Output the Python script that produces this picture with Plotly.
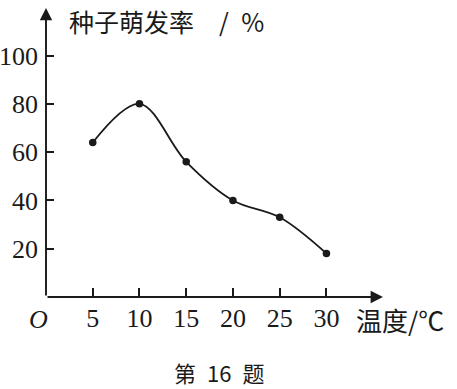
import plotly.graph_objects as go

# Data
temperature = [5, 10, 15, 20, 25, 30]
germination_rate = [64, 80, 56, 40, 33, 18]
x_tick_vals = [5, 10, 15, 20, 25, 30]
y_tick_vals = [20, 40, 60, 80, 100]

W, H = 457, 389
L, R, T, B = 46, 74, 8, 92
PW, PH = W - L - R, H - T - B
XMAX = 36.05
YMAX = 119.7

INK = "#1a1a1a"
SERIF = "Liberation Serif, DejaVu Serif, serif"
CJK = "Noto Sans CJK SC, sans-serif"


def paper_x(px):
    return (px - L) / PW


def paper_y(py):
    return (T + PH - py) / PH


fig = go.Figure()
fig.add_trace(go.Scatter(
    x=temperature, y=germination_rate,
    mode="lines+markers",
    line=dict(color=INK, width=1.8, shape="spline", smoothing=1.0),
    marker=dict(color=INK, size=7.5),
    cliponaxis=False,
    showlegend=False,
))

annotations = [
    # axis lines with arrows
    dict(x=XMAX, y=0, ax=0, ay=0, xref="x", yref="y", axref="x", ayref="y",
         showarrow=True, arrowhead=2, arrowsize=1.3, arrowwidth=1.9, arrowcolor=INK, text=""),
    dict(x=0, y=YMAX, ax=0, ay=0, xref="x", yref="y", axref="x", ayref="y",
         showarrow=True, arrowhead=2, arrowsize=1.3, arrowwidth=1.9, arrowcolor=INK, text=""),
    # origin label
    dict(x=paper_x(38.5), y=paper_y(319), xref="paper", yref="paper", text="<i>O</i>",
         showarrow=False, font=dict(family=SERIF, size=26, color=INK),
         xanchor="center", yanchor="middle"),
    # y-axis title
    dict(x=paper_x(67), y=paper_y(21), xref="paper", yref="paper",
         text="种子萌发率\u2003/\u2002%",
         showarrow=False, font=dict(family=CJK, size=25, color=INK),
         xanchor="left", yanchor="middle"),
    # x-axis title
    dict(x=paper_x(354), y=paper_y(319), xref="paper", yref="paper", text="温度/℃",
         showarrow=False, font=dict(family=CJK, size=26, color=INK),
         xanchor="left", yanchor="middle"),
    # caption
    dict(x=paper_x(219), y=paper_y(372), xref="paper", yref="paper",
         text="第\u200216\u2002题",
         showarrow=False, font=dict(family=CJK, size=22, color=INK),
         xanchor="center", yanchor="middle"),
]

fig.update_layout(
    width=W, height=H,
    margin=dict(l=L, r=R, t=T, b=B, pad=0, autoexpand=False),
    paper_bgcolor="white", plot_bgcolor="white",
    annotations=annotations,
    xaxis=dict(range=[0, XMAX], tickmode="array", tickvals=x_tick_vals,
               ticks="inside", ticklen=9, tickwidth=1.5, tickcolor=INK,
               ticklabelstandoff=3, automargin=False,
               showline=False, showgrid=False, zeroline=False,
               tickfont=dict(family=SERIF, size=26, color=INK)),
    yaxis=dict(range=[0, YMAX], tickmode="array", tickvals=y_tick_vals,
               ticks="inside", ticklen=8, tickwidth=1.5, tickcolor=INK,
               ticklabelstandoff=7, automargin=False,
               showline=False, showgrid=False, zeroline=False,
               tickfont=dict(family=SERIF, size=26, color=INK)),
)

fig.write_html("out.html")
